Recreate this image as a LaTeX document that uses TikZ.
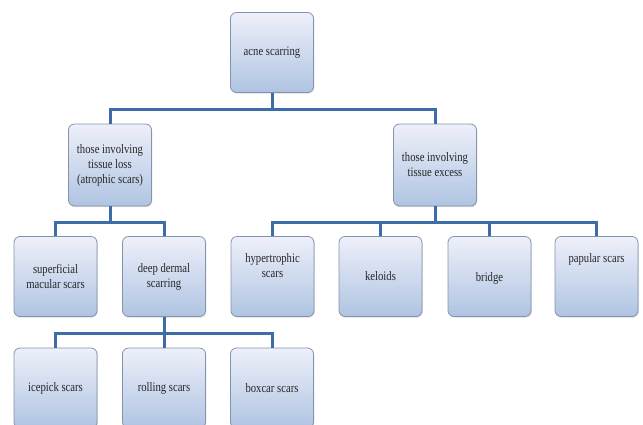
\documentclass[tikz,border=0pt]{standalone}
\usepackage{fontspec}
\setmainfont{Liberation Serif}[FakeStretch=0.82]
\usepackage{xcolor}
\usepackage{tikz}
\usetikzlibrary{shapes,arrows,positioning,shadows}

\definecolor{boxtop}{HTML}{EEF0FA}
\definecolor{boxbot}{HTML}{AFC4E2}
\definecolor{boxline}{HTML}{8493AB}
\definecolor{linkblue}{HTML}{3D6CA6}

\begin{document}
\begin{tikzpicture}[x=1pt, y=1pt,
    scarbox/.style={rectangle, rounded corners=6pt, draw=boxline, line width=0.8pt,
        top color=boxtop, bottom color=boxbot, minimum width=83pt, minimum height=80pt,
        align=center, inner sep=2pt, font=\fontsize{13}{15}\selectfont, text=black!85,
        drop shadow={shadow xshift=0.8pt, shadow yshift=-1.2pt, opacity=0.25}},
    link/.style={draw=linkblue, line width=3pt, line join=miter}]
    \useasboundingbox (0,0) rectangle (643,-424);

    % Nodes
    \node [scarbox] (acne) at (272,-52.5) {acne scarring};
    \node [scarbox, minimum height=82pt] (loss) at (110,-165) {those involving\\tissue loss\\(atrophic scars)};
    \node [scarbox, minimum height=82pt] (excess) at (435,-165) {those involving\\tissue excess};
    \node [scarbox] (macular) at (55.5,-276.5) {superficial\\macular scars};
    \node [scarbox] (dermal) at (164,-276.5) {deep dermal\\scarring};
    \node [scarbox, text depth=23pt] (hyper) at (272.5,-276.5) {hypertrophic\\scars};
    \node [scarbox] (keloids) at (380.5,-276.5) {keloids};
    \node [scarbox, text depth=-1pt] (bridge) at (489.5,-276.5) {bridge};
    \node [scarbox, text depth=38pt] (papular) at (596.5,-276.5) {papular scars};
    \node [scarbox] (icepick) at (55.5,-388) {icepick scars};
    \node [scarbox] (rolling) at (164,-388) {rolling scars};
    \node [scarbox] (boxcar) at (272,-388) {boxcar scars};

    % Path
    \draw [link] (acne.south) -- ++(0,-16.5) -| (loss.north);
    \draw [link] (acne.south) -- ++(0,-16.5) -| (excess.north);
    \draw [link] (loss.south) -- ++(0,-16) -| (macular.north);
    \draw [link] (loss.south) -- ++(0,-16) -| (dermal.north);
    \draw [link] (excess.south) -- ++(0,-16) -| (hyper.north);
    \draw [link] (excess.south) -- ++(0,-16) -| (keloids.north);
    \draw [link] (excess.south) -- ++(0,-16) -| (bridge.north);
    \draw [link] (excess.south) -- ++(0,-16) -| (papular.north);
    \draw [link] (dermal.south) -- ++(0,-17) -| (icepick.north);
    \draw [link] (dermal.south) -- ++(0,-17) -| (rolling.north);
    \draw [link] (dermal.south) -- ++(0,-17) -| (boxcar.north);
\end{tikzpicture}
\end{document}
